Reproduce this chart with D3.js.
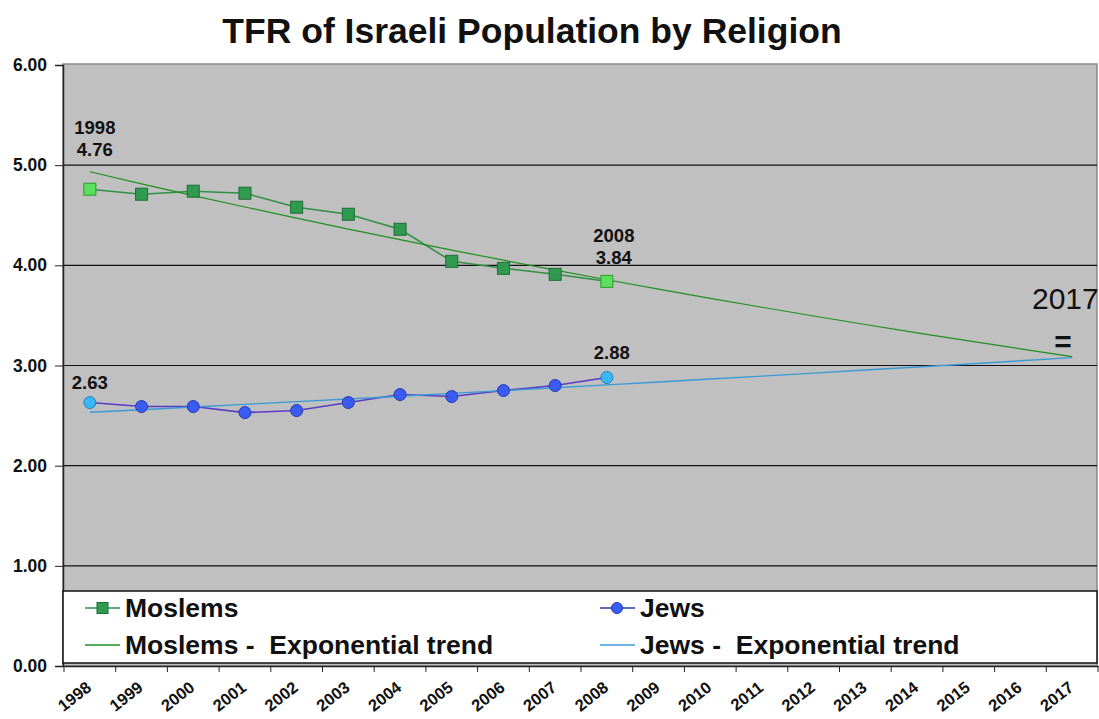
<!DOCTYPE html>
<html>
<head>
<meta charset="utf-8">
<script src="https://cdn.jsdelivr.net/npm/d3@7"></script>
<style>
  body { margin: 0; background: #fff; }
  text { font-family: "Liberation Sans", Arial, sans-serif; }
</style>
</head>
<body>
<div id="chart"></div>
<script>
var years = d3.range(1998, 2018).map(String);
var dataYears = d3.range(1998, 2009).map(String);
var moslems = [4.76, 4.71, 4.74, 4.72, 4.58, 4.51, 4.36, 4.04, 3.97, 3.91, 3.84];
var jews = [2.63, 2.59, 2.59, 2.53, 2.55, 2.63, 2.71, 2.69, 2.75, 2.80, 2.88];
var yTicks = [0, 1, 2, 3, 4, 5, 6];

var w = 1099;
var h = 719;
var svg = d3.select('#chart').append('svg').attr('width', w).attr('height', h);

var pLeft = 63, pRight = 1097, pTop = 65, pBottom = 666;

var x = d3.scaleBand().domain(years).range([pLeft + 1, pRight + 1]);
var y = d3.scaleLinear().domain([0, 6]).range([pBottom, pTop]);
function cx(yr) { return x(yr) + x.bandwidth() / 2; }

// exponential trend: least squares fit on ln(value)
function expFit(vals) {
  var n = vals.length;
  var xs = d3.range(n);
  var lv = vals.map(Math.log);
  var mx = d3.mean(xs), my = d3.mean(lv);
  var sxy = d3.sum(xs, function (d, i) { return (d - mx) * (lv[i] - my); });
  var sxx = d3.sum(xs, function (d) { return (d - mx) * (d - mx); });
  var b = sxy / sxx, a = my - b * mx;
  return years.map(function (yr, i) { return { year: yr, v: Math.exp(a + b * i) }; });
}

// title
svg.append('text')
  .attr('x', 532).attr('y', 43)
  .attr('text-anchor', 'middle')
  .attr('font-size', 35.5).attr('font-weight', 'bold').attr('fill', '#111')
  .text('TFR of Israeli Population by Religion');

// plot background
svg.append('rect')
  .attr('x', pLeft).attr('y', pTop - 1)
  .attr('width', pRight - pLeft).attr('height', pBottom - pTop + 1)
  .attr('fill', '#c0c0c0')
  .attr('stroke', '#8a8a8a').attr('stroke-width', 1.5);

// gridlines
svg.append('g').selectAll('line')
  .data(yTicks.filter(function (d) { return d > 0 && d < 6; }))
  .enter().append('line')
  .attr('x1', pLeft).attr('x2', pRight)
  .attr('y1', function (d) { return y(d); })
  .attr('y2', function (d) { return y(d); })
  .attr('stroke', '#111').attr('stroke-width', 1.2);

// y axis
var yAxis = svg.append('g')
  .attr('transform', 'translate(' + pLeft + ',0)')
  .call(d3.axisLeft(y).tickValues(yTicks).tickFormat(d3.format('.2f')).tickSize(8).tickPadding(8));
yAxis.select('.domain').attr('stroke', '#222').attr('stroke-width', 1.5);
yAxis.selectAll('.tick line').attr('stroke', '#222');
yAxis.selectAll('.tick text')
  .attr('font-size', 17.5).attr('font-weight', 'bold').attr('fill', '#111')
  .attr('font-family', '"Liberation Sans", Arial, sans-serif');

// legend box (sits inside the plot area)
var lg = svg.append('g');
lg.append('rect')
  .attr('x', pLeft).attr('y', 591)
  .attr('width', pRight - pLeft).attr('height', 72)
  .attr('fill', '#fff').attr('stroke', '#111').attr('stroke-width', 1.5);

// x axis
var xAxis = svg.append('g')
  .attr('transform', 'translate(0,' + pBottom + ')')
  .call(d3.axisBottom(x).tickSize(0).tickPadding(0));
xAxis.select('.domain').attr('stroke', '#222').attr('stroke-width', 1.5);
xAxis.selectAll('.tick line').remove();
xAxis.selectAll('.tick').append('line')
  .attr('x1', -x.bandwidth() / 2).attr('x2', -x.bandwidth() / 2)
  .attr('y1', 0).attr('y2', 6).attr('stroke', '#222');
xAxis.append('line')
  .attr('x1', pRight + 1).attr('x2', pRight + 1).attr('y1', 0).attr('y2', 6).attr('stroke', '#222');
xAxis.selectAll('.tick text')
  .attr('font-size', 16.5).attr('font-weight', 'bold').attr('fill', '#111')
  .attr('font-family', '"Liberation Sans", Arial, sans-serif')
  .attr('text-anchor', 'end')
  .attr('transform', 'translate(-1,19) rotate(-38)')
  .attr('dy', '0.35em');

var line = d3.line()
  .x(function (d) { return cx(d.year); })
  .y(function (d) { return y(d.v); });

var mData = dataYears.map(function (yr, i) { return { year: yr, v: moslems[i] }; });
var jData = dataYears.map(function (yr, i) { return { year: yr, v: jews[i] }; });
var mTrend = expFit(moslems);
var jTrend = expFit(jews);

// series lines
svg.append('path').datum(mData).attr('d', line)
  .attr('fill', 'none').attr('stroke', '#2f8f45').attr('stroke-width', 1.5);
svg.append('path').datum(jData).attr('d', line)
  .attr('fill', 'none').attr('stroke', '#5a3cc4').attr('stroke-width', 1.6);

// trend lines
svg.append('path').datum(mTrend).attr('d', line)
  .attr('fill', 'none').attr('stroke', '#1f8f1f').attr('stroke-width', 1.2);
svg.append('path').datum(jTrend).attr('d', line)
  .attr('fill', 'none').attr('stroke', '#3a9ad6').attr('stroke-width', 1.4);

// markers
var last = dataYears.length - 1;
svg.append('g').selectAll('rect')
  .data(mData).enter().append('rect')
  .attr('x', function (d) { return cx(d.year) - 6; })
  .attr('y', function (d) { return y(d.v) - 6; })
  .attr('width', 12).attr('height', 12)
  .attr('fill', function (d, i) { return (i === 0 || i === last) ? '#5ae05a' : '#2f9a50'; })
  .attr('stroke', function (d, i) { return (i === 0 || i === last) ? '#2c9c2c' : '#1d6e33'; })
  .attr('stroke-width', 1);

svg.append('g').selectAll('circle')
  .data(jData).enter().append('circle')
  .attr('cx', function (d) { return cx(d.year); })
  .attr('cy', function (d) { return y(d.v); })
  .attr('r', 6)
  .attr('fill', function (d, i) { return (i === 0 || i === last) ? '#3ab8f5' : '#3b5cf2'; })
  .attr('stroke', function (d, i) { return (i === 0 || i === last) ? '#1f7fbf' : '#2238b0'; })
  .attr('stroke-width', 1);

// data labels
var labels = [
  { year: '1998', v: moslems[0], lines: ['1998', '4.76'], dx: 5, dy: -33 },
  { year: '2008', v: moslems[last], lines: ['2008', '3.84'], dx: 7, dy: -17 },
  { year: '1998', v: jews[0], lines: ['2.63'], dx: 0, dy: -14 },
  { year: '2008', v: jews[last], lines: ['2.88'], dx: 5, dy: -19 }
];
labels.forEach(function (l) {
  var t = svg.append('text')
    .attr('x', cx(l.year) + l.dx)
    .attr('y', y(l.v) + l.dy - (l.lines.length - 1) * 22)
    .attr('text-anchor', 'middle')
    .attr('font-size', 18.5).attr('font-weight', 'bold').attr('fill', '#111');
  l.lines.forEach(function (s, i) {
    t.append('tspan').attr('x', cx(l.year) + l.dx).attr('dy', i === 0 ? 0 : 22).text(s);
  });
});

// 2017 note
svg.append('text')
  .attr('x', 1032).attr('y', 309)
  .attr('font-family', '"Open Sans", "Noto Sans", sans-serif')
  .attr('font-size', 30).attr('fill', '#111')
  .text('2017');
svg.append('text')
  .attr('x', 1063).attr('y', 352)
  .attr('text-anchor', 'middle')
  .attr('font-family', '"Open Sans", "Noto Sans", sans-serif')
  .attr('font-size', 30).attr('font-weight', 'bold').attr('fill', '#111')
  .text('=');

// legend entries
var legendItems = [
  { name: 'Moslems', x: 85, y: 608, kind: 'square', color: '#2f9a50', lineColor: '#2f8f45' },
  { name: 'Jews', x: 600, y: 608, kind: 'circle', color: '#3b5cf2', lineColor: '#2238b0' },
  { name: 'Moslems -  Exponential trend', x: 85, y: 645, kind: 'line', lineColor: '#1f8f1f' },
  { name: 'Jews -  Exponential trend', x: 600, y: 645, kind: 'line', lineColor: '#3a9ad6' }
];
legendItems.forEach(function (d) {
  lg.append('line')
    .attr('x1', d.x).attr('x2', d.x + 35)
    .attr('y1', d.y).attr('y2', d.y)
    .attr('stroke', d.lineColor).attr('stroke-width', 1.5);
  if (d.kind === 'square') {
    lg.append('rect').attr('x', d.x + 12).attr('y', d.y - 5.5).attr('width', 11).attr('height', 11)
      .attr('fill', d.color).attr('stroke', '#1d6e33');
  } else if (d.kind === 'circle') {
    lg.append('circle').attr('cx', d.x + 17).attr('cy', d.y).attr('r', 5.5)
      .attr('fill', d.color).attr('stroke', '#2238b0');
  }
  lg.append('text')
    .attr('x', d.x + 40).attr('y', d.y + 9)
    .attr('font-size', 26.5).attr('font-weight', 'bold').attr('fill', '#111')
    .style('white-space', 'pre')
    .text(d.name);
});
</script>
</body>
</html>
